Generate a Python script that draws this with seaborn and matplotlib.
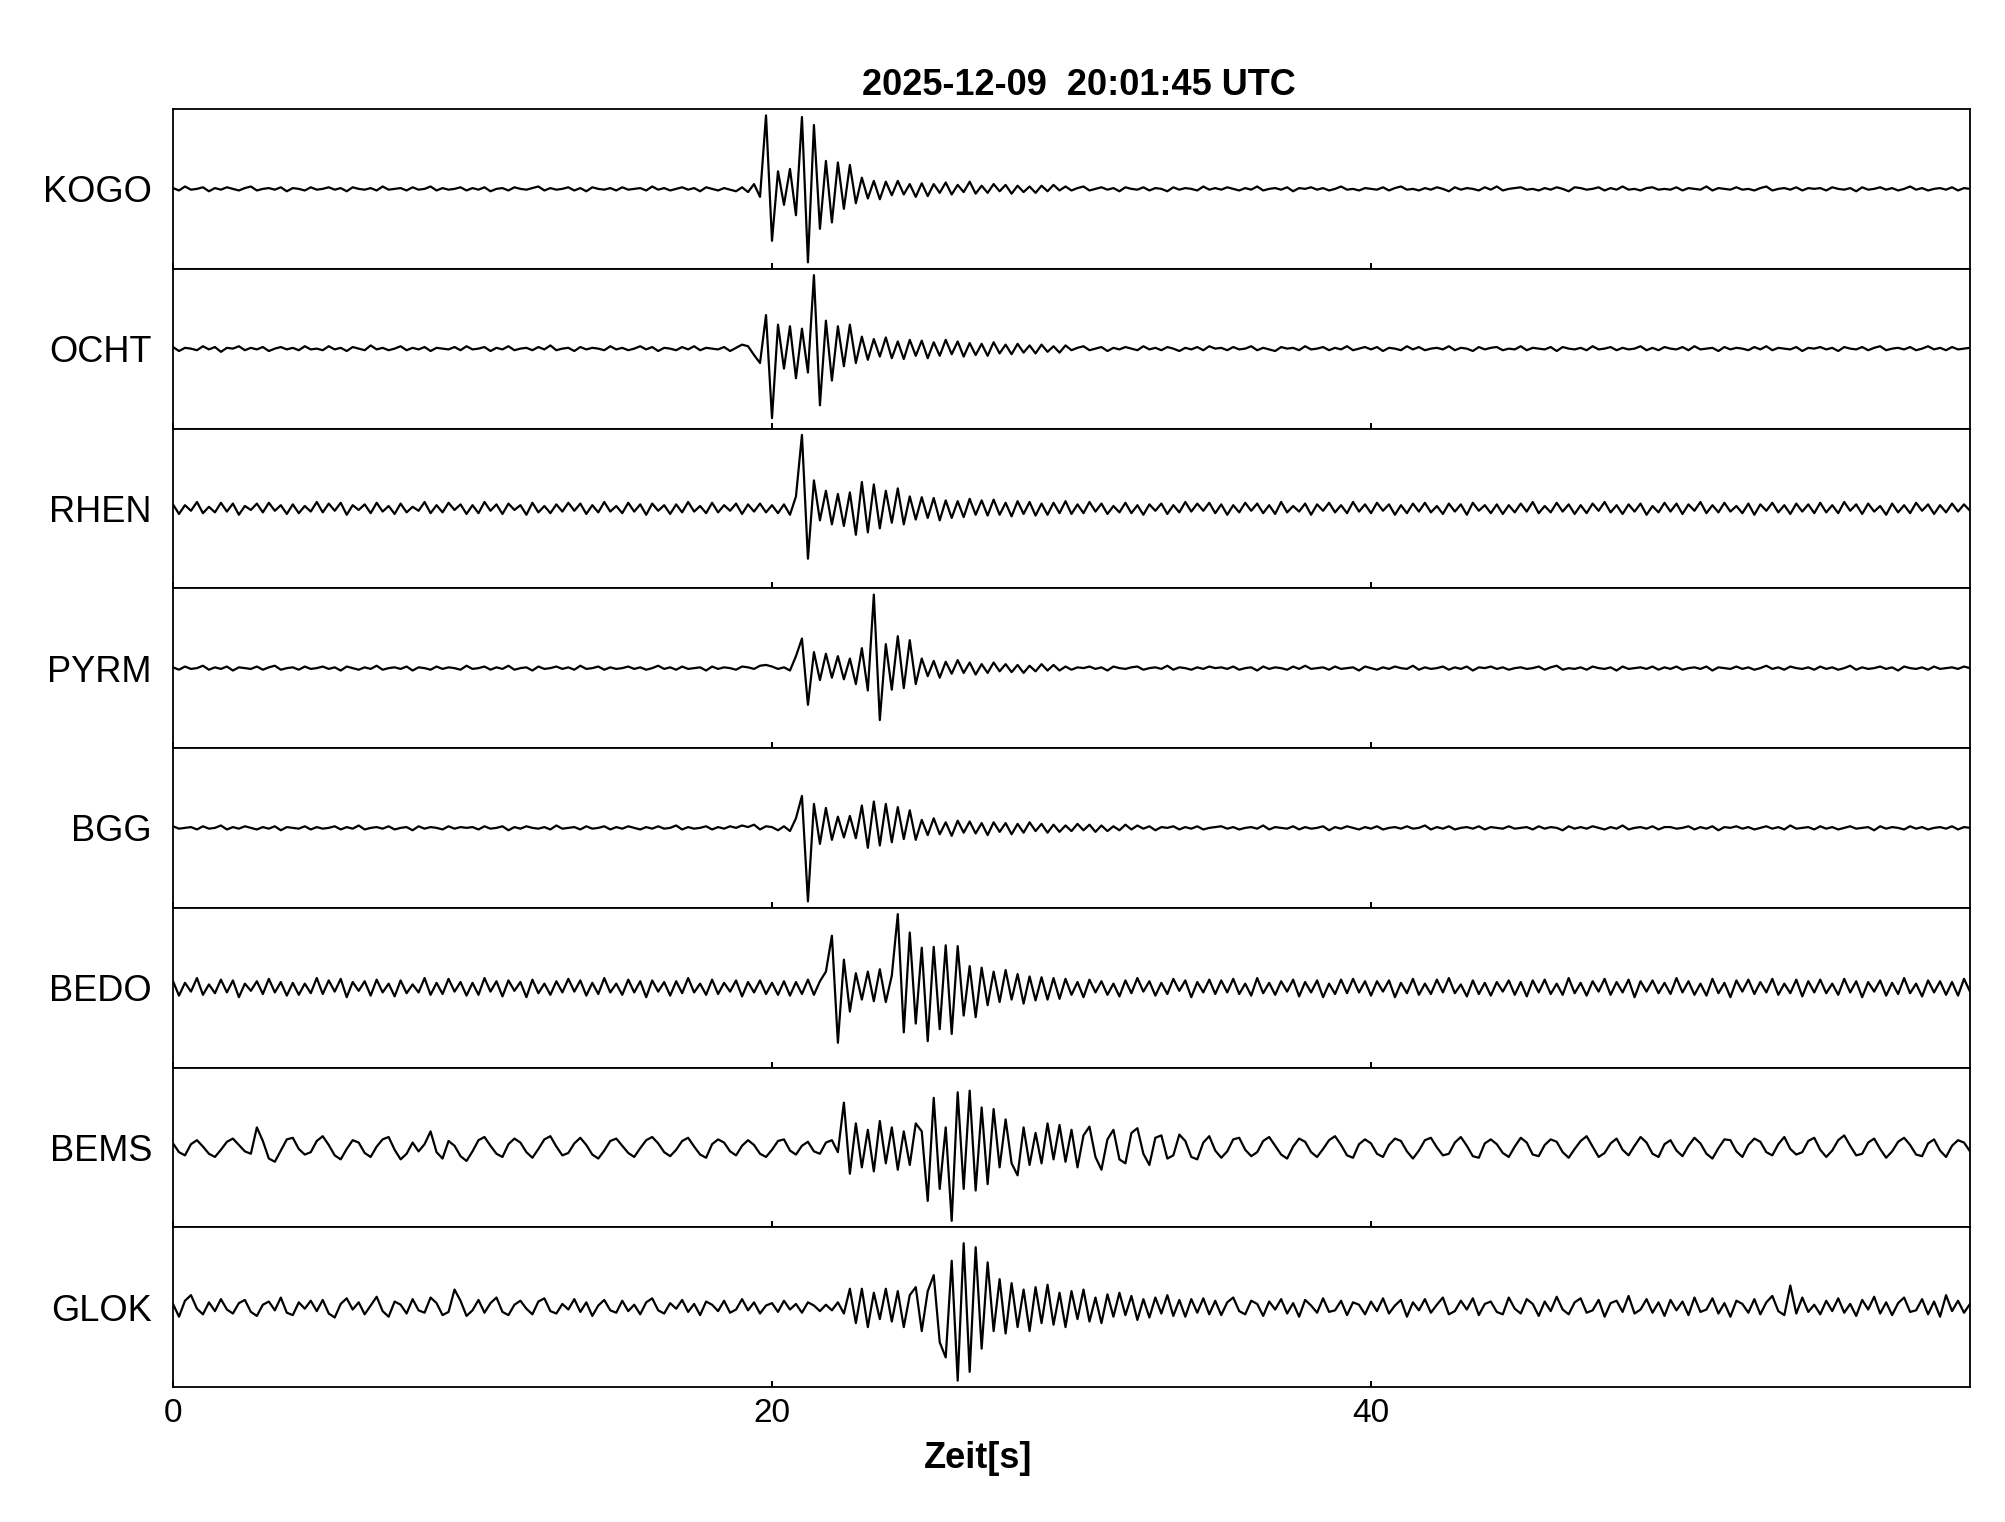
import numpy as np
import pandas as pd
import matplotlib
matplotlib.use("Agg")
import matplotlib.pyplot as plt
import seaborn as sns

DT = 0.2
stations = ["KOGO", "OCHT", "RHEN", "PYRM", "BGG", "BEDO", "BEMS", "GLOK"]
xticks = [0, 20, 40]
title = "2025-12-09  20:01:45 UTC"
xlabel = "Zeit[s]"

kogo = [1,-2,3,-1,0,2,-3,1,-1,2,0,-2,1,3,-2,0,1,-1,2,-3,1,0,-2,2,-1,
        0,2,-1,1,-3,2,0,-1,1,-2,3,-1,0,1,-2,2,-1,0,3,-2,1,-1,0,2,-2,
        1,-1,2,-3,0,1,-2,2,0,-1,1,3,-2,1,-1,0,2,-2,1,-3,2,0,-1,1,-2,
        2,-1,0,1,-2,3,-1,1,-2,0,2,-1,1,-3,2,0,-2,1,-1,-3,2,-4,6,-10,92,
        -65,22,-20,25,-33,90,-92,80,-50,35,-42,33,-25,30,-18,14,-12,10,-13,9,-8,10,-7,6,-10,
        7,-9,6,-5,8,-7,5,-4,9,-6,4,-5,6,-3,5,-6,4,-4,3,-5,4,-3,5,-2,3,
        -2,1,3,-2,0,2,-1,1,-3,2,0,-1,2,-2,1,0,-3,2,-1,1,0,-2,3,-1,1,
        -1,2,0,-2,1,-1,3,-2,0,1,-1,2,-3,1,0,2,-1,1,-2,0,3,-1,0,-2,1,
        0,-1,2,-2,1,3,-1,0,-2,1,-1,2,0,-3,2,-1,1,0,-2,2,-1,3,-2,0,1,
        2,-1,0,-2,1,-1,2,0,-3,2,1,-1,0,2,-2,1,-1,3,-1,0,-2,1,2,-1,0,
        -1,2,-2,1,0,-1,3,-2,1,0,-1,2,-1,0,-2,1,3,-2,0,1,-1,2,-2,1,0,
        1,-2,2,0,-1,1,-3,2,-1,0,2,-1,1,-2,0,3,-1,1,-2,0,1,-1,2,-2,1,
        0]

ocht = [2,-3,1,0,-2,3,-1,2,-4,1,0,3,-2,1,-1,2,-3,0,2,-1,1,-2,3,-1,0,
        -2,3,-1,1,-3,2,0,-2,4,-1,1,-2,0,3,-2,1,-1,2,-3,1,0,-1,2,-2,3,
        -1,0,2,-3,1,-1,3,-2,0,1,-2,2,-1,4,-2,0,1,-3,2,-1,1,0,-2,3,-1,
        1,-2,0,3,-1,2,-3,1,0,-2,2,-1,3,-2,1,0,-1,2,-3,1,5,3,-8,-18,42,
        -87,30,-25,28,-37,25,-30,92,-71,35,-40,28,-22,30,-18,15,-14,12,-10,14,-12,9,-13,11,-9,
        10,-12,8,-9,11,-7,9,-10,7,-8,6,-9,8,-6,5,-7,6,-5,4,-6,5,-4,3,-5,4,
        -2,1,3,-2,0,2,-3,1,-1,2,0,-2,3,-1,1,-2,2,0,-3,1,-1,2,-2,3,0,
        1,-2,2,-1,0,3,-2,1,-1,-3,2,0,1,-2,3,-1,0,2,-2,1,-1,3,-2,0,2,
        -1,2,-3,1,0,-2,3,-1,2,-2,0,1,-1,3,-2,1,0,-3,2,-1,1,2,-2,0,-1,
        3,-2,1,0,-1,2,-3,2,0,-1,1,-2,3,-1,0,2,-2,1,-1,0,3,-2,1,-2,2,
        0,-1,2,-2,3,-1,0,1,-3,2,-1,1,0,-2,2,-1,3,-2,1,0,-1,2,-3,1,0,
        2,-1,1,-3,2,0,-1,2,-2,1,3,-2,0,1,-1,2,-2,0,3,-1,1,-2,2,-1,0,
        1]

rhen = [5,-7,4,-3,8,-6,2,-5,7,-4,6,-8,3,-2,6,-5,7,-3,4,-7,5,-6,3,-4,8,
        -5,6,-3,7,-8,4,-2,5,-6,7,-4,3,-7,6,-5,2,-3,8,-6,4,-5,7,-2,5,-7,
        4,-6,8,-3,5,-7,6,-2,4,-8,7,-5,3,-6,5,-4,7,-3,6,-7,4,-5,8,-4,3,
        -6,7,-4,5,-8,6,-3,4,-7,5,-5,8,-4,3,-6,7,-5,4,-3,6,-7,5,-4,6,-5,
        4,-6,5,-8,15,92,-63,35,-15,22,-20,18,-22,20,-33,33,-30,30,-25,22,-18,25,-20,15,-14,
        14,-12,13,-15,10,-12,9,-11,12,-8,10,-9,11,-8,7,-10,9,-7,8,-9,6,-8,7,-6,9,
        -7,5,-6,8,-4,6,-7,3,-5,7,-6,4,-8,5,-3,6,-7,4,-5,8,-4,6,-3,7,-6,
        5,-8,4,-5,7,-3,6,-6,4,-7,8,-5,3,-4,6,-8,5,-3,7,-5,4,-6,8,-4,5,
        -6,7,-3,5,-8,4,-6,6,-4,7,-5,3,-7,6,-4,5,-8,7,-3,4,-6,5,-7,4,-5,
        6,-4,8,-6,3,-5,7,-4,5,-7,4,-6,6,-3,8,-5,4,-7,5,-4,6,-8,3,-5,7,
        -4,6,-7,5,-3,8,-6,4,-5,7,-4,3,-6,6,-8,5,-3,7,-5,4,-7,6,-4,5,-6,
        7,-5,4,-6,8,-3,5,-7,6,-4,3,-8,6,-5,4,-6,7,-3,5,-7,4,-5,6,-4,5,
        -3]

pyrm = [1,-2,2,-1,0,3,-2,1,-1,2,-3,1,0,-1,2,-2,1,3,-2,0,1,-2,2,-1,0,
        2,-1,1,-3,2,0,-2,1,-1,3,-2,0,1,-1,2,-3,1,0,-2,2,-1,1,0,-2,3,
        -1,0,2,-2,1,-1,3,-2,0,1,-3,2,-1,0,2,-1,1,-2,3,-1,0,2,-2,1,-1,
        0,2,-1,1,-2,0,3,-1,1,-2,2,-1,0,1,-3,2,-1,1,0,-2,2,1,-1,3,4,
        2,-1,1,-3,15,37,-46,20,-15,18,-12,15,-14,12,-20,25,-28,92,-65,30,-27,40,-25,35,-20,
        12,-10,9,-12,8,-7,10,-6,7,-8,5,-6,7,-4,5,-5,4,-6,3,-4,5,-3,4,-3,2,
        -2,1,0,2,-1,1,-3,2,0,-1,1,2,-2,0,1,-1,3,-2,1,0,-2,1,-1,2,0,
        1,-1,2,-2,0,1,-3,2,-1,1,0,-2,2,-1,3,-1,0,1,-2,2,-1,0,1,-3,2,
        0,-2,1,-1,2,0,-1,3,-2,1,-1,0,2,-2,1,-1,2,-3,1,0,2,-1,1,-2,0,
        1,-1,0,2,-2,1,3,-2,0,-1,1,-2,2,0,-1,1,-3,2,-1,0,1,-1,2,-2,1,
        -1,2,-2,0,1,-1,2,-3,1,0,-1,2,-1,1,-2,0,3,-1,1,-2,2,0,-1,1,-2,
        2,-1,1,-2,0,3,-2,1,-1,0,2,-1,1,-3,2,0,-1,1,-2,2,-1,0,1,-1,2,
        0]

bgg = [2,-1,0,1,-2,2,-1,0,3,-2,1,-1,2,0,-2,1,-1,2,-3,1,0,-1,2,-2,1,
       -1,0,2,-2,1,-1,3,-2,0,1,-1,2,-2,0,1,-3,2,-1,1,0,-2,2,-1,1,0,
       1,-2,2,-1,0,2,-3,1,-1,2,0,-1,1,-2,3,-1,0,1,-2,2,-1,0,2,-2,1,
       -1,2,0,-2,1,-1,2,-1,0,3,-2,1,-1,0,2,-2,1,-1,2,0,3,1,4,-2,2,
       1,-3,2,-4,12,40,-92,30,-20,25,-15,14,-12,15,-13,28,-25,33,-22,30,-18,26,-14,22,-15,
       10,-9,12,-8,7,-10,9,-6,8,-7,6,-9,7,-5,6,-8,5,-6,7,-4,5,-6,4,-5,3,
       -4,5,-3,4,-5,3,-4,2,-3,4,-2,3,-1,2,-3,1,0,2,-2,1,-1,2,-2,0,1,
       2,-1,1,-2,0,1,-1,3,-2,1,0,-1,2,-2,1,-1,0,2,-3,1,-1,2,0,-2,1,
       -1,2,-2,0,1,-1,2,-1,0,3,-2,1,-1,2,-2,0,1,-1,2,-2,1,0,-1,2,-1,
       0,1,-2,2,-1,1,0,-3,2,-1,1,-1,2,0,-2,1,-1,3,-2,0,1,-1,2,-2,1,
       1,-1,0,2,-2,1,-1,2,-3,1,0,2,-1,1,-2,0,2,-1,1,-2,3,-1,0,1,-2,
       2,-1,1,-2,0,2,-1,0,1,-3,2,-1,1,0,-2,2,-1,1,-2,0,1,-1,2,-2,1,
       0]

bedo = [8,-10,6,-5,12,-9,4,-7,10,-6,9,-12,5,-4,8,-8,11,-6,7,-10,6,-9,5,-7,12,
        -8,9,-5,11,-12,7,-4,8,-10,10,-6,5,-11,9,-7,4,-6,12,-9,6,-8,11,-5,7,-10,
        6,-9,12,-5,8,-11,9,-4,7,-12,10,-7,5,-9,8,-6,11,-5,9,-10,6,-8,12,-6,5,
        -9,10,-6,8,-12,9,-5,7,-10,8,-7,12,-6,5,-9,10,-8,6,-5,9,-11,7,-6,9,-8,
        6,-9,8,-10,7,-8,10,-9,8,20,65,-69,35,-30,18,-15,20,-17,23,-18,15,92,-56,69,-45,
        50,-67,51,-52,53,-58,52,-35,27,-37,25,-22,20,-18,22,-15,17,-20,14,-16,13,-15,12,-14,11,
        -9,7,-12,10,-6,8,-9,5,-11,9,-7,12,-5,8,-10,6,-8,11,-4,9,-12,7,-6,10,-8,
        9,-6,11,-8,5,-10,12,-7,6,-9,8,-5,10,-11,7,-6,9,-12,5,-8,10,-7,11,-6,8,
        -10,8,-5,9,-12,6,-7,11,-9,5,-8,10,-6,12,-7,4,-11,9,-8,6,-10,7,-5,9,-9,
        7,-11,9,-6,10,-8,5,-9,12,-7,6,-10,8,-5,11,-9,7,-6,10,-12,8,-5,9,-7,6,
        -8,12,-6,8,-9,5,-10,11,-7,6,-12,9,-5,10,-8,7,-6,11,-9,5,-7,10,-11,8,-6,
        10,-7,5,-9,11,-6,8,-12,7,-5,9,-10,6,-8,12,-7,5,-11,9,-6,8,-9,7,-10,11,
        -5]

bems = [5,-6,-10,4,9,1,-8,-12,-3,7,11,3,-5,-8,25,8,-14,-18,-4,10,12,-2,-9,-6,8,
        14,3,-10,-15,-2,9,6,-7,-12,1,10,13,-3,-15,-8,6,-5,4,20,-6,-14,8,2,-11,-17,
        -5,9,13,2,-8,-12,4,11,6,-6,-13,-2,10,14,1,-10,-7,5,12,3,-9,-14,-4,8,11,
        2,-7,-12,-1,9,13,5,-6,-11,-3,8,12,1,-9,-13,4,10,6,-5,-10,2,9,3,-8,-12,
        -3,8,10,-4,-9,2,7,-5,-8,6,9,-6,56,-33,30,-25,22,-30,33,-20,25,-28,20,-22,30,
        20,-67,62,-52,25,-92,69,-52,71,-54,50,-46,48,-25,35,-20,-35,25,-22,18,-20,30,-15,28,-18,
        22,-25,15,26,-12,-28,10,22,-15,-20,18,24,-8,-22,12,15,-14,-10,16,8,-12,-15,6,14,-4,
        -13,-5,10,12,-3,-11,-6,8,13,2,-9,-14,1,11,7,-6,-12,-2,9,14,3,-10,-13,4,10,
        5,-8,-12,3,11,8,-5,-14,-4,9,12,0,-10,-8,6,13,2,-11,-13,5,10,4,-7,-12,1,
        12,6,-9,-11,3,10,7,-6,-13,-2,8,14,1,-12,-7,5,11,-3,-10,2,13,6,-8,-12,4,
        9,-4,-11,2,12,5,-8,-14,-1,10,9,-5,-12,3,11,7,-6,-10,4,13,-2,-9,-6,8,12,
        -3,-12,-4,9,15,2,-10,-8,6,11,-2,-13,-5,7,12,3,-9,-11,5,10,-4,-12,2,9,6,
        -5]

glok = [4,-12,8,15,-2,-9,6,-5,10,-3,-8,5,9,-6,-11,3,7,-4,12,-7,-10,6,-2,8,-5,
        9,-8,-13,4,11,-3,6,-9,2,13,-5,-12,7,3,-8,10,-4,-7,12,5,-10,-6,22,8,-11,
        -4,9,-7,5,12,-6,-10,3,8,-2,-9,7,11,-5,-8,4,-3,10,-6,6,-11,2,9,-4,-7,
        8,-5,3,-9,6,11,-4,-8,5,-2,9,-6,4,-10,7,3,-5,8,-7,-3,10,-4,6,-8,2,
        5,-6,8,-3,4,-7,6,2,-5,3,-4,6,-8,23,-20,23,-25,18,-15,23,-18,20,-25,15,25,
        -30,20,40,-44,-63,58,-92,80,-81,75,-52,56,-30,35,-33,30,-25,22,-30,25,-20,28,-22,18,-25,
        20,-15,22,-18,12,-20,16,-12,18,-10,14,-16,10,-13,12,-8,15,-11,9,-12,10,-7,11,-9,8,
        -10,6,12,-5,-9,8,4,-11,7,-3,10,-8,5,-12,9,2,-7,11,-6,-4,8,-10,6,3,-9,
        7,-5,11,-8,2,9,-12,6,-4,10,-7,3,12,-9,-5,8,-3,11,-10,4,7,-6,-9,12,-2,
        -8,10,4,-11,7,-5,13,-3,-9,6,11,-7,-4,9,-12,5,8,-6,14,-8,-3,10,-7,6,-11,
        9,-4,7,-10,12,-6,-3,11,-8,5,-12,8,4,-7,10,-9,6,14,-5,-10,27,-8,12,-6,3,
        -9,8,-5,11,-7,4,-11,9,-3,13,-8,6,-10,5,12,-6,-4,10,-9,7,-12,15,-5,8,-7,
        4]

traces = [kogo, ocht, rhen, pyrm, bgg, bedo, bems, glok]
for name, tr in zip(stations, traces):
    if len(tr) != 301:
        raise ValueError(f"{name}: {len(tr)} samples")

sns.set_style("white", {"text.color": "black", "axes.labelcolor": "black",
                        "xtick.color": "black", "axes.edgecolor": "black"})
plt.rcParams['font.family'] = ['Liberation Sans', 'DejaVu Sans']

fig, axes = plt.subplots(len(stations), 1, sharex=True, figsize=(20.05, 15.22), dpi=100)
fig.subplots_adjust(left=173/2005, right=1970/2005, top=1-109/1522, bottom=1-1387/1522, hspace=0)

for ax, name, tr in zip(axes, stations, traces):
    df = pd.DataFrame({"t": np.arange(len(tr)) * DT, "amp": np.array(tr) / 100})
    sns.lineplot(data=df, x="t", y="amp", ax=ax, color="black", linewidth=1.6, estimator=None)
    ax.set_xlim(0, 60)
    ax.set_ylim(-1, 1)
    ax.set_yticks([])
    ax.set_xticks(xticks)
    ax.tick_params(axis='x', direction='in', bottom=True, length=4, width=1.4,
                   labelsize=24, pad=8, colors='black')
    ax.set_xlabel("")
    ax.set_ylabel(name, rotation=0, fontsize=26, ha='right', va='center', color='black')
    ax.yaxis.set_label_coords(-0.0117, 0.475)
    for sp in ax.spines.values():
        sp.set_color('black')
        sp.set_linewidth(1.3)

axes[0].set_title(title, fontsize=26, fontweight='bold', pad=10, x=0.504, color='black')
axes[-1].set_xticklabels([str(v) for v in xticks])
axes[-1].set_xlabel(xlabel, fontsize=26, fontweight='bold', color='black')
axes[-1].xaxis.set_label_coords(0.448, -0.34)

fig.savefig("out.png", dpi=100)
